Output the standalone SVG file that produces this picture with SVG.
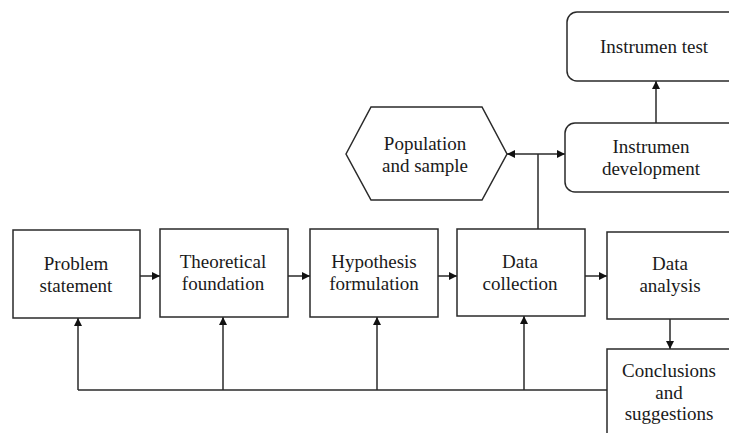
<svg xmlns="http://www.w3.org/2000/svg" width="729" height="433" viewBox="0 0 729 433">
<defs>
<style>
.box{fill:#fff;stroke:#2a2a2a;stroke-width:1.5}
.t{font-family:'Liberation Serif','Times New Roman',serif;font-size:19px;fill:#1a1a1a;text-anchor:middle}
.c{fill:none;stroke:#2a2a2a;stroke-width:1.5}
</style>
<marker id="ah" viewBox="0 0 10 10" refX="10" refY="5" markerWidth="9" markerHeight="8" markerUnits="userSpaceOnUse" orient="auto-start-reverse">
<path d="M0,0 L10,5 L0,10 z" fill="#111"/>
</marker>
</defs>
<rect width="729" height="433" fill="#fff"/>
<g id="connectors">
<line class="c" x1="140" y1="276" x2="160" y2="276" marker-end="url(#ah)"/>
<line class="c" x1="288" y1="276" x2="310" y2="276" marker-end="url(#ah)"/>
<line class="c" x1="438" y1="276" x2="457" y2="276" marker-end="url(#ah)"/>
<line class="c" x1="585" y1="276" x2="607" y2="276" marker-end="url(#ah)"/>
<line class="c" x1="670" y1="319" x2="670" y2="349" marker-end="url(#ah)"/>
<polyline class="c" points="607,390 78,390"/>
<line class="c" x1="78" y1="390" x2="78" y2="318" marker-end="url(#ah)"/>
<line class="c" x1="223" y1="390" x2="223" y2="317" marker-end="url(#ah)"/>
<line class="c" x1="377" y1="390" x2="377" y2="317" marker-end="url(#ah)"/>
<line class="c" x1="524" y1="390" x2="524" y2="316" marker-end="url(#ah)"/>
<line class="c" x1="538" y1="229" x2="538" y2="154"/>
<line class="c" x1="507" y1="154" x2="565" y2="154" marker-start="url(#ah)" marker-end="url(#ah)"/>
<line class="c" x1="656" y1="123" x2="656" y2="81" marker-end="url(#ah)"/>
</g>
<g id="problem-statement">
<rect class="box" x="13" y="230" width="127" height="88"/>
<text class="t" x="76" y="270">Problem</text>
<text class="t" x="76" y="292">statement</text>
</g>
<g id="theoretical-foundation">
<rect class="box" x="160" y="229" width="128" height="88"/>
<text class="t" x="223" y="268">Theoretical</text>
<text class="t" x="223" y="290">foundation</text>
</g>
<g id="hypothesis-formulation">
<rect class="box" x="310" y="229" width="128" height="88"/>
<text class="t" x="374" y="268">Hypothesis</text>
<text class="t" x="374" y="290">formulation</text>
</g>
<g id="data-collection">
<rect class="box" x="457" y="229" width="128" height="87"/>
<text class="t" x="520" y="268">Data</text>
<text class="t" x="520" y="290">collection</text>
</g>
<g id="data-analysis">
<rect class="box" x="607" y="232" width="128" height="87"/>
<text class="t" x="670" y="270">Data</text>
<text class="t" x="670" y="292">analysis</text>
</g>
<g id="conclusions">
<rect class="box" x="607" y="349" width="128" height="100"/>
<text class="t" x="669" y="377">Conclusions</text>
<text class="t" x="669" y="399">and</text>
<text class="t" x="669" y="420">suggestions</text>
</g>
<g id="population-sample">
<polygon class="box" points="346,154 371,107 482,107 507,154 482,200 371,200"/>
<text class="t" x="425" y="150">Population</text>
<text class="t" x="425" y="172">and sample</text>
</g>
<g id="instrumen-development">
<rect class="box" x="565" y="123" width="175" height="69" rx="10"/>
<text class="t" x="651" y="153">Instrumen</text>
<text class="t" x="651" y="175">development</text>
</g>
<g id="instrumen-test">
<rect class="box" x="567" y="12" width="175" height="69" rx="10"/>
<text class="t" x="654" y="53">Instrumen test</text>
</g>
</svg>
